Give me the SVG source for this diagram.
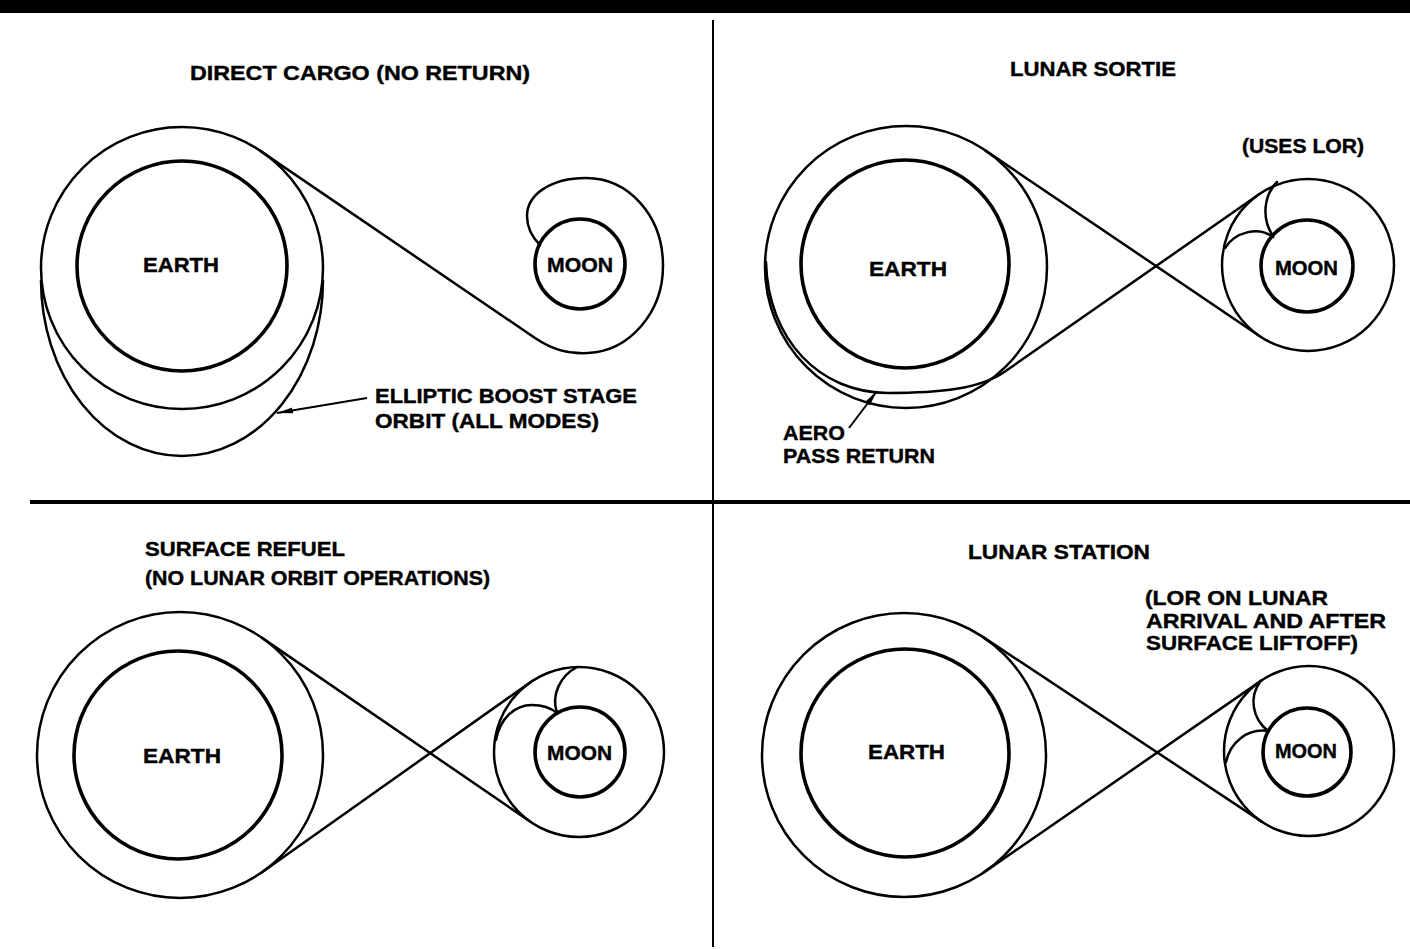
<svg xmlns="http://www.w3.org/2000/svg" width="1410" height="949" viewBox="0 0 1410 949">
<style>
.orb{fill:none;stroke:#000;stroke-width:2.5}
.body{fill:none;stroke:#000;stroke-width:3.6}
.traj{fill:none;stroke:#000;stroke-width:2.5;stroke-linejoin:round;stroke-linecap:round}
.ptr{fill:none;stroke:#000;stroke-width:2}
.t{font-family:"Liberation Sans",Arial,sans-serif;font-weight:bold;font-size:20px;fill:#000;stroke:#000;stroke-width:0.4}
.tb{font-family:"Liberation Sans",Arial,sans-serif;font-weight:bold;font-size:21px;fill:#000;stroke:#000;stroke-width:0.4}
</style>
<defs>
<marker id="ah" markerUnits="userSpaceOnUse" markerWidth="18" markerHeight="10" refX="16" refY="4" orient="auto">
<path d="M0,1 L16,4 L0,7 z" fill="#000"/>
</marker>
</defs>
<rect width="1410" height="949" fill="#fff"/>
<g id="frame">
<rect x="0" y="0" width="1410" height="13" fill="#000"/>
<line x1="713" y1="20" x2="713" y2="947" stroke="#000" stroke-width="2"/>
<line x1="30" y1="502" x2="1410" y2="502" stroke="#000" stroke-width="4"/>
</g>

<!-- Quadrant 1: Direct cargo -->
<g id="q1-title"><text class="t" x="190" y="80" textLength="340" lengthAdjust="spacingAndGlyphs">DIRECT CARGO (NO RETURN)</text></g>
<g id="q1-earth">
<circle class="orb" cx="182" cy="268" r="141"/>
<path class="orb" d="M41,280 A141,176 0 0,0 323,280"/>
<circle class="body" cx="182" cy="266" r="105"/>
<text class="tb" x="143" y="272" textLength="76" lengthAdjust="spacingAndGlyphs">EARTH</text>
</g>
<g id="q1-moon">
<circle class="body" cx="580" cy="264" r="45"/>
<text class="tb" x="547" y="272" textLength="66" lengthAdjust="spacingAndGlyphs">MOON</text>
</g>
<g id="q1-label">
<text class="t" x="375" y="403" textLength="262" lengthAdjust="spacingAndGlyphs">ELLIPTIC BOOST STAGE</text>
<text class="t" x="375" y="428" textLength="224" lengthAdjust="spacingAndGlyphs">ORBIT (ALL MODES)</text>
</g>

<!-- Quadrant 2: Lunar sortie -->
<g id="q2-title">
<text class="t" x="1010" y="76" textLength="166" lengthAdjust="spacingAndGlyphs">LUNAR SORTIE</text>
<text class="t" x="1242" y="153" textLength="122" lengthAdjust="spacingAndGlyphs">(USES LOR)</text>
</g>
<g id="q2-earth">
<circle class="orb" cx="906" cy="267" r="141"/>
<circle class="body" cx="905" cy="264" r="104"/>
<text class="tb" x="869" y="276" textLength="78" lengthAdjust="spacingAndGlyphs">EARTH</text>
</g>
<g id="q2-moon">
<circle class="orb" cx="1308" cy="265" r="86"/>
<circle class="body" cx="1307" cy="266" r="46"/>
<text class="tb" x="1275" y="275" textLength="63" lengthAdjust="spacingAndGlyphs">MOON</text>
</g>
<g id="q2-label">
<text class="t" x="783" y="440" textLength="62" lengthAdjust="spacingAndGlyphs">AERO</text>
<text class="t" x="783" y="463" textLength="152" lengthAdjust="spacingAndGlyphs">PASS RETURN</text>
</g>

<!-- Quadrant 3: Surface refuel -->
<g id="q3-title">
<text class="t" x="145" y="556" textLength="200" lengthAdjust="spacingAndGlyphs">SURFACE REFUEL</text>
<text class="t" x="145" y="585" textLength="345" lengthAdjust="spacingAndGlyphs">(NO LUNAR ORBIT OPERATIONS)</text>
</g>
<g id="q3-earth">
<circle class="orb" cx="180" cy="755" r="143"/>
<circle class="body" cx="178" cy="755" r="104"/>
<text class="tb" x="143" y="763" textLength="78" lengthAdjust="spacingAndGlyphs">EARTH</text>
</g>
<g id="q3-moon">
<circle class="orb" cx="579" cy="752" r="85"/>
<circle class="body" cx="580" cy="752" r="45"/>
<text class="tb" x="547" y="760" textLength="65" lengthAdjust="spacingAndGlyphs">MOON</text>
</g>

<!-- Quadrant 4: Lunar station -->
<g id="q4-title">
<text class="t" x="968" y="559" textLength="182" lengthAdjust="spacingAndGlyphs">LUNAR STATION</text>
<text class="t" x="1145" y="605" textLength="183" lengthAdjust="spacingAndGlyphs">(LOR ON LUNAR</text>
<text class="t" x="1146" y="628" textLength="240" lengthAdjust="spacingAndGlyphs">ARRIVAL AND AFTER</text>
<text class="t" x="1146" y="650" textLength="212" lengthAdjust="spacingAndGlyphs">SURFACE LIFTOFF)</text>
</g>
<g id="q4-earth">
<circle class="orb" cx="904" cy="755" r="142"/>
<circle class="body" cx="905" cy="753" r="104"/>
<text class="tb" x="868" y="759" textLength="77" lengthAdjust="spacingAndGlyphs">EARTH</text>
</g>
<g id="q4-moon">
<circle class="orb" cx="1309" cy="751" r="85"/>
<circle class="body" cx="1307" cy="752" r="44"/>
<text class="tb" x="1275" y="758" textLength="62" lengthAdjust="spacingAndGlyphs">MOON</text>
</g>

<g id="connectors">
<!-- Q1 -->
<path class="traj" d="M261,151.4 L535,338 C553,350 568,354 588,353 C630,351 663,312 663,266 C663,215 628,178 586,178 C550,178 527,195 527,216 C527,228 532,237 540,245"/>
<line class="ptr" x1="367" y1="398" x2="277" y2="413" marker-end="url(#ah)"/>
<!-- Q2 -->
<line class="traj" x1="985.6" y1="150.6" x2="1259.4" y2="336"/>
<path class="traj" d="M1259.4,194 L1005,371.5 C980,389 940,393 888,393 C820,393 768,340 766,262"/>
<path class="traj" d="M1277,182 C1264,195 1261,218 1273,236"/>
<path class="traj" d="M1225,248 C1235,232 1258,226 1273,237"/>
<line class="ptr" x1="849" y1="428" x2="877" y2="391" marker-end="url(#ah)"/>
<!-- Q3 -->
<line class="traj" x1="261.7" y1="637.6" x2="530.4" y2="821.8"/>
<line class="traj" x1="261.7" y1="872.4" x2="530.4" y2="682.2"/>
<path class="traj" d="M577,667 C560,676 551,695 557,713"/>
<path class="traj" d="M496,740 C500,718 515,705 532,705 C543,705 551,708 557,713"/>
<!-- Q4 -->
<line class="traj" x1="983.6" y1="637.4" x2="1261.3" y2="821.4"/>
<line class="traj" x1="983.6" y1="872.6" x2="1261.3" y2="680.6"/>
<path class="traj" d="M1260,682 C1249,697 1252,718 1268,731"/>
<path class="traj" d="M1226,762 C1230,742 1248,728 1268,731"/>
</g>
</svg>
